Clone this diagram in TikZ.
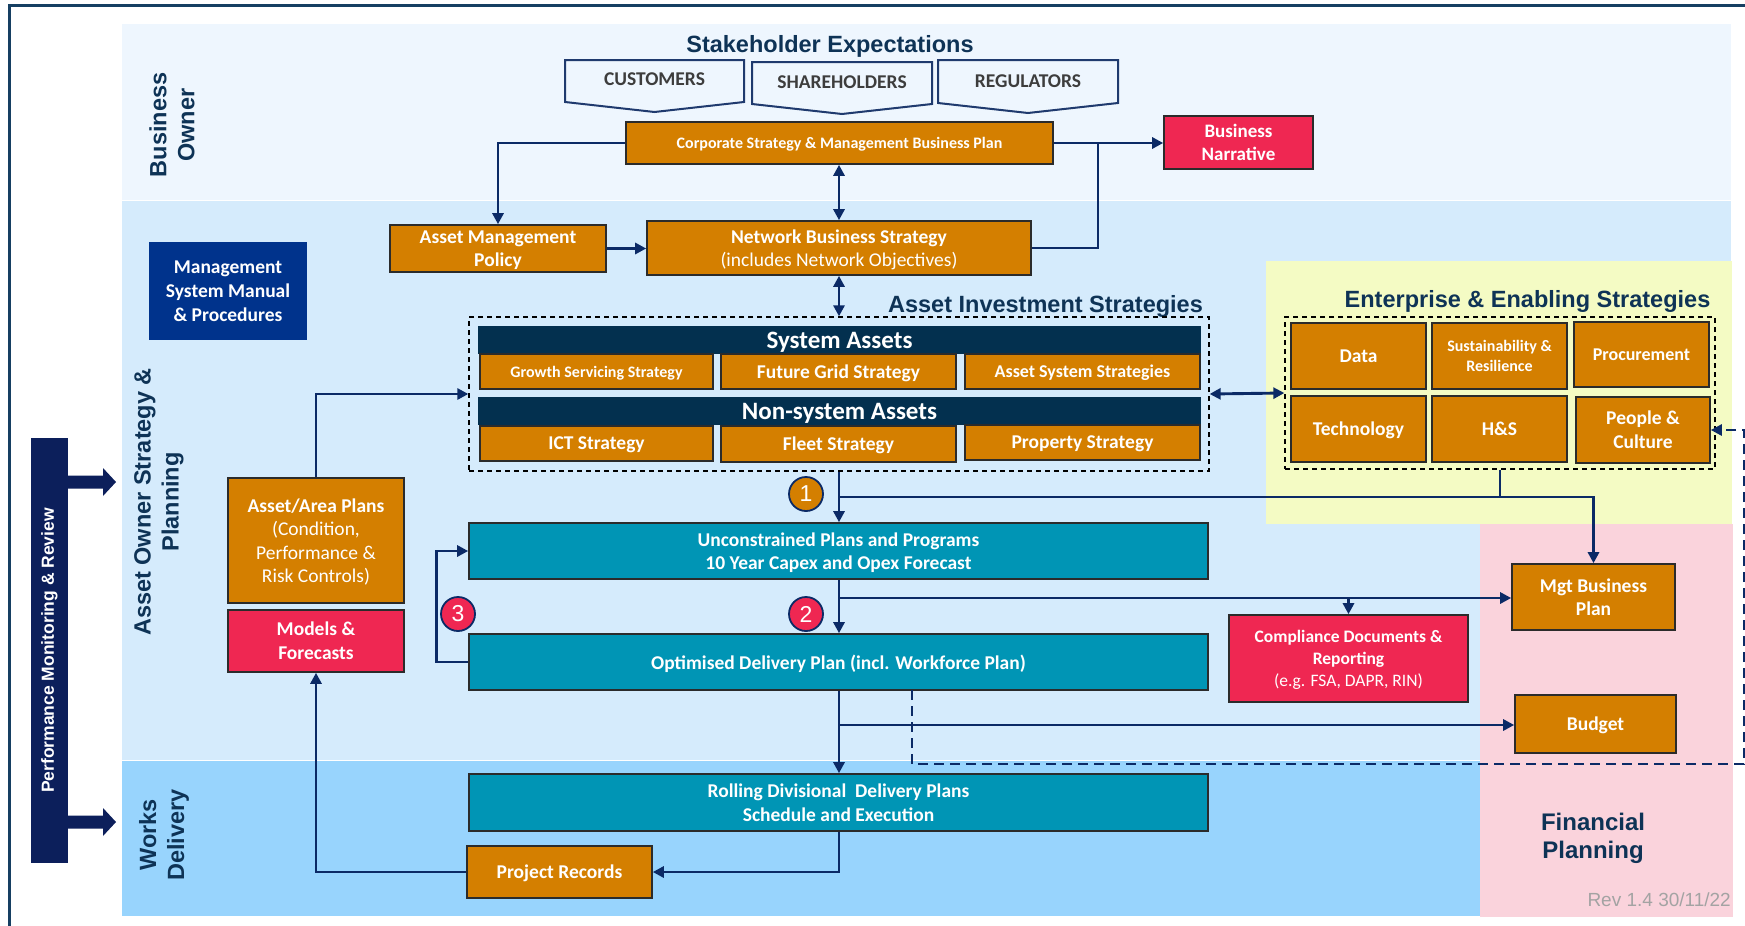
\documentclass[tikz,border=0pt]{standalone}
\usepackage{fontspec}
\setmainfont{Carlito}
\newfontfamily\arialfont{Liberation Sans}
\usetikzlibrary{arrows.meta}

\definecolor{bandtop}{HTML}{EEF6FE}
\definecolor{bandmid}{HTML}{D5EBFC}
\definecolor{bandlow}{HTML}{98D4FD}
\definecolor{bandyel}{HTML}{F4FBC4}
\definecolor{bandpink}{HTML}{FAD3DC}
\definecolor{orangebox}{HTML}{D47F00}
\definecolor{tealbox}{HTML}{0095B5}
\definecolor{redbox}{HTML}{EF2752}
\definecolor{navyhead}{HTML}{03304F}
\definecolor{manualblue}{HTML}{00338C}
\definecolor{perfnavy}{HTML}{0C1F5B}
\definecolor{flow}{HTML}{0B2A66}
\definecolor{titleblue}{HTML}{0E3356}
\definecolor{edgegrey}{HTML}{2B2B2B}
\definecolor{framecol}{HTML}{163F62}
\definecolor{stkline}{HTML}{1F3A6E}
\definecolor{stktext}{HTML}{3D3D3D}
\definecolor{revgrey}{HTML}{A3A3A3}

\tikzset{
  box/.style={draw=edgegrey, line width=1.6pt, text=white, align=center, inner sep=0pt, text depth=0pt,
    font=\bfseries\fontsize{19.5}{23.5}\selectfont},
  fsz/.style 2 args={font=\bfseries\fontsize{#1}{#2}\selectfont},
  obox/.style={box, fill=orangebox},
  tbox/.style={box, fill=tealbox},
  rbox/.style={box, fill=redbox},
  hbar/.style={box, fill=navyhead, draw=navyhead, font=\bfseries\fontsize{25}{28}\selectfont},
  dashbox/.style={draw=black, line width=1.3pt, dash pattern=on 5pt off 4pt, inner sep=0pt},
  flowline/.style={draw=flow, line width=2.9pt},
  arr/.style={flowline, -{Triangle[length=11pt,width=11pt]}},
  darr/.style={flowline, {Triangle[length=11pt,width=11pt]}-{Triangle[length=11pt,width=11pt]}},
  dashflow/.style={draw=flow, line width=2.6pt, dash pattern=on 10pt off 6pt, -{Triangle[length=11pt,width=11pt]}},
  heading/.style={text=titleblue, font=\arialfont\bfseries\fontsize{23.5}{28}\selectfont, inner sep=0pt, anchor=base},
  sidelabel/.style={heading, anchor=center, align=center, rotate=90},
  num/.style={circle, draw=flow, line width=1.8pt, minimum size=34pt, inner sep=0pt, text=white,
    font=\arialfont\fontsize{23}{23}\selectfont},
  stk/.style={draw=stkline, line width=2pt, fill=bandtop},
  stklabel/.style={text=stktext, font=\bfseries\fontsize{19.5}{22}\selectfont, inner sep=0pt, anchor=base},
}

\begin{document}
\begin{tikzpicture}[x=1pt, y=-1pt]
\useasboundingbox (0,0) rectangle (1745,926);

% swim-lane bands
\fill[bandtop] (122,24) rectangle (1731,200);
\fill[bandmid] (122,201) rectangle (1731,760);
\fill[bandlow] (122,761) rectangle (1481,916);
\fill[bandyel] (1266,261) rectangle (1732,524);
\fill[bandpink] (1480,524) rectangle (1733,917);

% outer frame
\draw[framecol, line width=3pt] (9.5,926) -- (9.5,5) -- (1745,5);

% lane labels
\node[sidelabel] (lblbo) at (172,125) {Business\\Owner};
\node[sidelabel] (lblao) at (159,502) {Asset Owner Strategy \&\\Planning};
\node[sidelabel] (lblwd) at (164,835) {Works\\Delivery};

% performance monitoring bar with its two arrows
\node[fill=perfnavy, minimum width=425pt, minimum height=37pt, inner sep=0pt, rotate=90,
      text=white, font=\arialfont\bfseries\fontsize{17.5}{20}\selectfont] (perf) at (49.5,650.5)
      {Performance Monitoring \& Review};
\fill[perfnavy] (66,475.5) -- (103,475.5) -- (103,468) -- (116,482) -- (103,496) -- (103,488.5) -- (66,488.5) -- cycle;
\fill[perfnavy] (66,815.5) -- (103,815.5) -- (103,808) -- (116,822) -- (103,836) -- (103,828.5) -- (66,828.5) -- cycle;

% stakeholder expectations
\node[heading] (stkhead) at (830,52) {Stakeholder Expectations};
\draw[stk] (565,60) -- (744,60) -- (744,102) -- (654.5,112) -- (565,102) -- cycle;
\draw[stk] (752,62) -- (932,62) -- (932,104) -- (842,114) -- (752,104) -- cycle;
\draw[stk] (938,60) -- (1118,60) -- (1118,103) -- (1028,113) -- (938,103) -- cycle;
\node[stklabel] (cust) at (654.5,85) {CUSTOMERS};
\node[stklabel] (share) at (842,88) {SHAREHOLDERS};
\node[stklabel] (regs) at (1028,87) {REGULATORS};

% business owner level
\node[obox, fsz={16}{19}, minimum width=427pt, minimum height=42pt] (corp) at (839.5,143)
  {Corporate Strategy \& Management Business Plan};
\node[rbox, fsz={19}{23}, minimum width=149pt, minimum height=53pt] (bn) at (1238.5,142.5)
  {Business\\Narrative};

% strategy level
\node[obox, minimum width=216pt, minimum height=47pt] (amp) at (498,248.5) {Asset Management\\Policy};
\node[obox, minimum width=384pt, minimum height=54pt] (nbs) at (839,248)
  {Network Business Strategy\\{\mdseries (includes Network Objectives)}};
\node[box, fill=manualblue, draw=manualblue, fsz={19.5}{24}, minimum width=156pt, minimum height=96pt] (msm) at (228,291)
  {Management\\System Manual\\\& Procedures};

% asset investment strategies
\node[heading] (aishead) at (1045.5,312) {Asset Investment Strategies};
\node[dashbox, minimum width=740pt, minimum height=154pt] (aid) at (839,394) {};
\node[hbar, minimum width=721pt, minimum height=26pt] (sysh) at (839.5,340) {System Assets};
\node[obox, fsz={16}{19}, minimum width=233pt, minimum height=35pt] (gss) at (596.5,371.5) {Growth Servicing Strategy};
\node[obox, minimum width=235pt, minimum height=35pt] (fgs) at (838.5,371.5) {Future Grid Strategy};
\node[obox, fsz={18}{21}, minimum width=235pt, minimum height=35pt] (ass) at (1082.5,371.5) {Asset System Strategies};
\node[hbar, minimum width=721pt, minimum height=26pt] (nsh) at (839.5,411) {Non-system Assets};
\node[obox, minimum width=233pt, minimum height=35pt] (ict) at (596.5,443.5) {ICT Strategy};
\node[obox, minimum width=235pt, minimum height=36pt] (fleet) at (838.5,444) {Fleet Strategy};
\node[obox, minimum width=235pt, minimum height=35pt] (prop) at (1082.5,442.5) {Property Strategy};

% enterprise & enabling strategies
\node[heading] (enthead) at (1527.5,307) {Enterprise \& Enabling Strategies};
\node[dashbox, minimum width=430pt, minimum height=152pt] (eds) at (1500,393) {};
\node[obox, minimum width=135pt, minimum height=66pt] (data) at (1358.5,356) {Data};
\node[obox, fsz={16}{20}, minimum width=135pt, minimum height=66pt] (sus) at (1499.5,356) {Sustainability \&\\Resilience};
\node[obox, fsz={18}{21}, minimum width=135pt, minimum height=65pt] (proc) at (1641.5,354.5) {Procurement};
\node[obox, minimum width=135pt, minimum height=66pt] (tech) at (1358.5,429) {Technology};
\node[obox, minimum width=135pt, minimum height=66pt] (hs) at (1499.5,429) {H\&S};
\node[obox, fsz={19.5}{24}, minimum width=134pt, minimum height=66pt] (pc) at (1643,430) {People \&\\Culture};

% plans
\node[obox, minimum width=176pt, minimum height=125pt] (aap) at (316,540.5)
  {Asset/Area Plans\\{\mdseries (Condition,}\\{\mdseries Performance \&}\\{\mdseries Risk Controls)}};
\node[rbox, fsz={19.5}{24}, minimum width=176pt, minimum height=62pt] (mf) at (316,641) {Models \&\\Forecasts};
\node[tbox, minimum width=739pt, minimum height=56pt] (unc) at (838.5,551)
  {Unconstrained Plans and Programs\\10 Year Capex and Opex Forecast};
\node[tbox, minimum width=739pt, minimum height=56pt] (opt) at (838.5,662)
  {Optimised Delivery Plan (incl. Workforce Plan)};
\node[rbox, fsz={17.5}{22}, minimum width=239pt, minimum height=87pt] (comp) at (1348.5,658.5)
  {Compliance Documents \&\\Reporting\\{\mdseries (e.g. FSA, DAPR, RIN)}};
\node[obox, minimum width=163pt, minimum height=66pt] (mgt) at (1593.5,597) {Mgt Business\\Plan};
\node[obox, minimum width=161pt, minimum height=58pt] (budget) at (1595.5,724) {Budget};

% works delivery
\node[tbox, minimum width=739pt, minimum height=57pt] (roll) at (838.5,802.5)
  {Rolling Divisional\ \ Delivery Plans\\Schedule and Execution};
\node[obox, minimum width=185pt, minimum height=52pt] (prj) at (559.5,872) {Project Records};

% financial planning
\node[heading, anchor=center, align=center, font=\arialfont\bfseries\fontsize{24}{28}\selectfont] (finlbl) at (1593,838)
  {Financial\\Planning};
\node[anchor=base east, inner sep=0pt, text=revgrey, font=\arialfont\fontsize{19}{20}\selectfont] (rev) at (1731,906)
  {Rev 1.4 30/11/22};

% junctions
\coordinate (j0) at (1098,143);
\coordinate (j1) at (839,497);
\coordinate (j2) at (839,598);
\coordinate (j3) at (839,725);
\coordinate (d0) at (912,690);
\coordinate (d1) at (1744,764);

% connectors
\draw[arr] (corp.west) -| (amp.north);
\draw[darr] (corp.south -| nbs.north) -- (nbs.north);
\draw[arr] (amp.east) -- (amp.east -| nbs.west);
\draw[arr] (corp.east) -- (corp.east -| bn.west);
\draw[flowline] (nbs.east) -| (j0);
\draw[darr] (nbs.south) -- (aid.north);
\draw[arr] (aap.north) |- (aid.west);
\draw[darr] (aid.east) -- (eds.west);
\draw[arr] (aid.south) -- (aid.south |- unc.north);
\draw[flowline] (eds.south) -- (eds.south |- j1);
\draw[arr] (j1) -| (mgt.north);
\draw[arr] (unc.south -| aid.south) -- (opt.north -| aid.south);
\draw[arr] (j2) -- (j2 -| mgt.west);
\draw[arr] (j2 -| comp.north) -- (comp.north);
\draw[arr] (opt.west) -- ++(-32,0) |- (unc.west);
\draw[arr] (opt.south -| aid.south) -- (roll.north -| aid.south);
\draw[arr] (j3) -- (j3 -| budget.west);
\draw[dashflow] (d0) |- (d1) |- (pc.east);
\draw[arr] (roll.south -| aid.south) |- (prj.east);
\draw[arr] (prj.west) -| (mf.south);

% step markers
\node[num, fill=orangebox] (n1) at (806,494) {1};
\node[num, fill=redbox] (n2) at (806,614) {2};
\node[num, fill=redbox] (n3) at (458,614) {3};
\end{tikzpicture}
\end{document}
